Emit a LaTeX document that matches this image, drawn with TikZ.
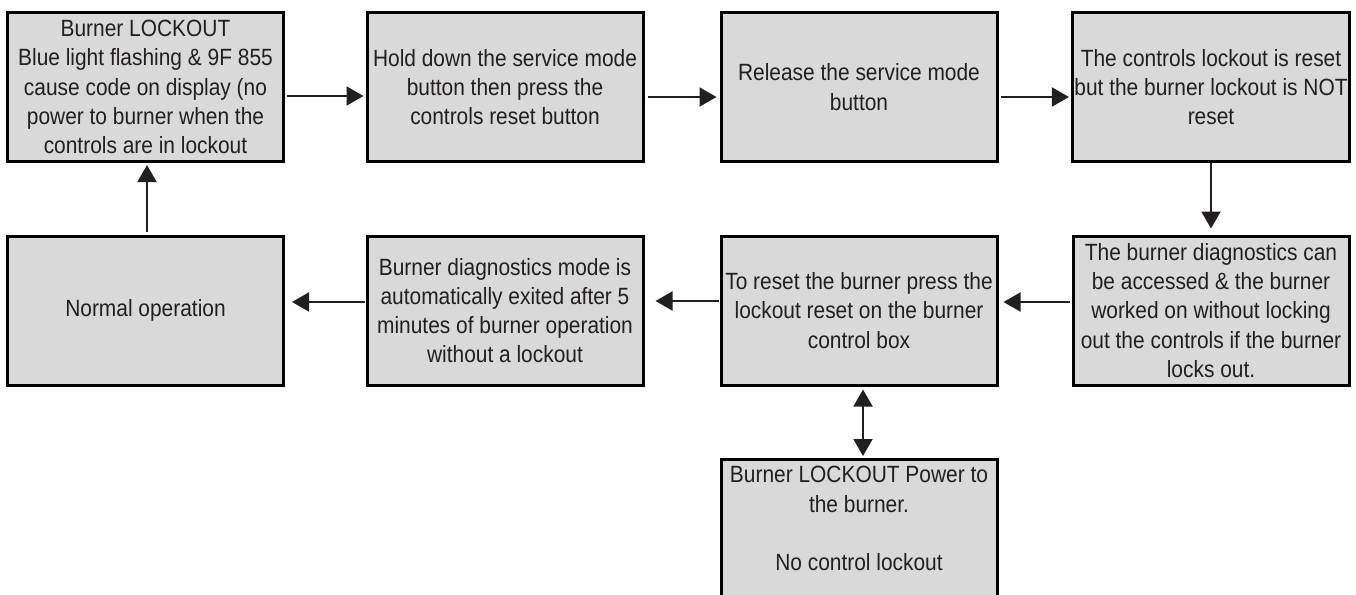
\documentclass[tikz,border=0pt]{standalone}
\usepackage{fontspec}
\setmainfont[FakeStretch=0.89]{Liberation Sans}
\usetikzlibrary{arrows.meta}
\definecolor{boxgray}{HTML}{D9D9D9}
\definecolor{ink}{HTML}{231F20}
\tikzset{
  box/.style={draw=black, line width=3pt, fill=boxgray, minimum width=276pt,
    minimum height=149pt, align=center, text=ink, inner sep=2pt,
    font=\fontsize{23.5}{29.2}\selectfont},
  arr/.style={draw=ink, line width=2pt, -{Triangle[length=17pt,width=19pt]}},
  darr/.style={draw=ink, line width=2pt, {Triangle[length=17pt,width=19pt]}-{Triangle[length=17pt,width=19pt]}},
}
\begin{document}
\begin{tikzpicture}[x=1pt,y=1pt]
\useasboundingbox (0,0) rectangle (1356,-594);
\node[box] (b1) at (145.5,-87) {Burner LOCKOUT\\Blue light flashing \& 9F 855\\cause code on display (no\\power to burner when the\\controls are in lockout};
\node[box] (b2) at (505,-87) {Hold down the service mode\\button then press the\\controls reset button};
\node[box] (b3) at (859,-87) {Release the service mode\\button};
\node[box] (b4) at (1211,-87) {The controls lockout is reset\\but the burner lockout is NOT\\reset};
\node[box] (b5) at (145.5,-310.5) {Normal operation};
\node[box] (b6) at (505,-310.5) {Burner diagnostics mode is\\automatically exited after 5\\minutes of burner operation\\without a lockout};
\node[box] (b7) at (859,-310.5) {To reset the burner press the\\lockout reset on the burner\\control box};
\node[box] (b8) at (1211,-310.5) {The burner diagnostics can\\be accessed \& the burner\\worked on without locking\\out the controls if the burner\\locks out.};
\node[box, anchor=north, inner ysep=7pt, text depth=110pt] (b9) at (859,-458) {Burner LOCKOUT Power to\\the burner.\\[29.2pt]No control lockout};

\draw[arr, shorten <=2pt, shorten >=2pt] ([yshift=-9pt]b1.east) -- ([yshift=-9pt]b2.west);
\draw[arr, shorten <=3pt, shorten >=3pt] ([yshift=-10pt]b2.east) -- ([yshift=-10pt]b3.west);
\draw[arr, shorten <=2pt, shorten >=2pt] ([yshift=-10pt]b3.east) -- ([yshift=-10pt]b4.west);
\draw[arr, shorten <=0pt, shorten >=6pt] (b4.south) -- (b8.north);
\draw[arr, shorten <=2pt, shorten >=5pt] ([yshift=8.5pt]b8.west) -- ([yshift=8.5pt]b7.east);
\draw[arr, shorten <=1pt, shorten >=11pt] ([yshift=9.5pt]b7.west) -- ([yshift=9.5pt]b6.east);
\draw[arr, shorten <=1pt, shorten >=7pt] ([yshift=8.5pt]b6.west) -- ([yshift=8.5pt]b5.east);
\draw[arr, shorten <=3pt, shorten >=2pt] ([xshift=1.5pt]b5.north) -- ([xshift=1.5pt]b1.south);
\draw[darr, shorten <=3pt, shorten >=2pt] ([xshift=4pt]b7.south) -- ([xshift=4pt]b9.north);
\end{tikzpicture}
\end{document}
